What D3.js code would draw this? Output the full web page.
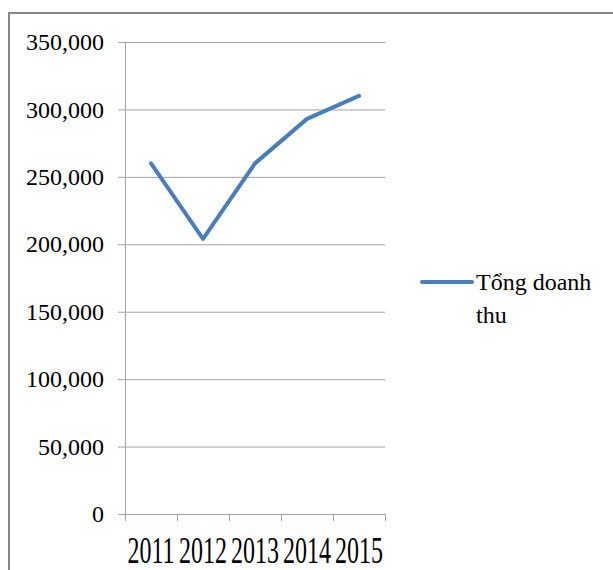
<!DOCTYPE html>
<html lang="vi">
<head>
<meta charset="UTF-8">
<title>Tổng doanh thu</title>
<style>
  body { margin: 0; background: #fff; }
  svg { display: block; }
</style>
</head>
<body>
<div class="chart"></div>
<script src="https://d3js.org/d3.v7.min.js"></script>
<script>
const years = ["2011", "2012", "2013", "2014", "2015"];
const revenue = [260000, 204000, 260000, 293000, 310000];
const yTicks = [0, 50000, 100000, 150000, 200000, 250000, 300000, 350000];
const seriesName = ["Tổng doanh", "thu"];

const width = 613, height = 570;
const plotLeft = 125, plotRight = 385, plotTop = 42, plotBottom = 514;
const gridColor = "#a3a3a3";
const lineColor = "#4a7ebb";
const serif = "'Liberation Serif', 'Times New Roman', Times, serif";

const svg = d3.select(".chart").append("svg")
  .attr("width", width)
  .attr("height", height);

// chart area border (only top and left visible in the picture)
svg.append("rect")
  .attr("x", 9).attr("y", 13)
  .attr("width", 640).attr("height", 620)
  .attr("fill", "none")
  .attr("stroke", "#878787")
  .attr("stroke-width", 2);

const x = d3.scaleBand().domain(years).range([plotLeft, plotRight]);
const xEdge = d3.scaleLinear().domain([0, years.length]).range([plotLeft, plotRight]);
const y = d3.scaleLinear().domain([0, 350000]).range([plotBottom, plotTop]);

// gridlines
svg.append("g")
  .attr("transform", `translate(${plotLeft},0)`)
  .call(d3.axisLeft(y).tickValues(yTicks).tickSize(-(plotRight - plotLeft)).tickFormat(""))
  .call(g => g.select(".domain").remove())
  .call(g => g.selectAll("line").attr("stroke", gridColor));

// y axis
svg.append("g")
  .attr("transform", `translate(${plotLeft},0)`)
  .call(d3.axisLeft(y).tickValues(yTicks).tickSize(7).tickSizeOuter(0).tickPadding(14).tickFormat(d3.format(",")))
  .call(g => g.select(".domain").attr("stroke", gridColor))
  .call(g => g.selectAll("line").attr("stroke", gridColor))
  .call(g => g.selectAll("text").style("font-family", serif).style("font-size", "24px").attr("fill", "#000"));

// x axis line + ticks at category edges
svg.append("g")
  .attr("transform", `translate(0,${plotBottom})`)
  .call(d3.axisBottom(xEdge).tickValues(d3.range(years.length + 1)).tickSize(7).tickSizeOuter(0).tickFormat(""))
  .call(g => g.select(".domain").attr("stroke", gridColor))
  .call(g => g.selectAll("line").attr("stroke", gridColor));

// x labels (stretched vertically like the source)
svg.append("g")
  .selectAll("text")
  .data(years)
  .join("text")
  .attr("transform", d => `translate(${x(d) + x.bandwidth() / 2},563) scale(1,1.55)`)
  .attr("text-anchor", "middle")
  .style("font-family", serif)
  .style("font-size", "24px")
  .text(d => d);

// series line
const line = d3.line()
  .x((d, i) => x(years[i]) + x.bandwidth() / 2)
  .y(d => y(d));

svg.append("path")
  .datum(revenue)
  .attr("fill", "none")
  .attr("stroke", lineColor)
  .attr("stroke-width", 4)
  .attr("stroke-linejoin", "round")
  .attr("stroke-linecap", "round")
  .attr("d", line);

// legend
const legend = svg.append("g");
legend.append("line")
  .attr("x1", 422).attr("x2", 472)
  .attr("y1", 282).attr("y2", 282)
  .attr("stroke", lineColor)
  .attr("stroke-width", 4)
  .attr("stroke-linecap", "round");
legend.selectAll("text")
  .data(seriesName)
  .join("text")
  .attr("x", 476)
  .attr("y", (d, i) => 290 + i * 33)
  .style("font-family", serif)
  .style("font-size", "24px")
  .text(d => d);
</script>
</body>
</html>
